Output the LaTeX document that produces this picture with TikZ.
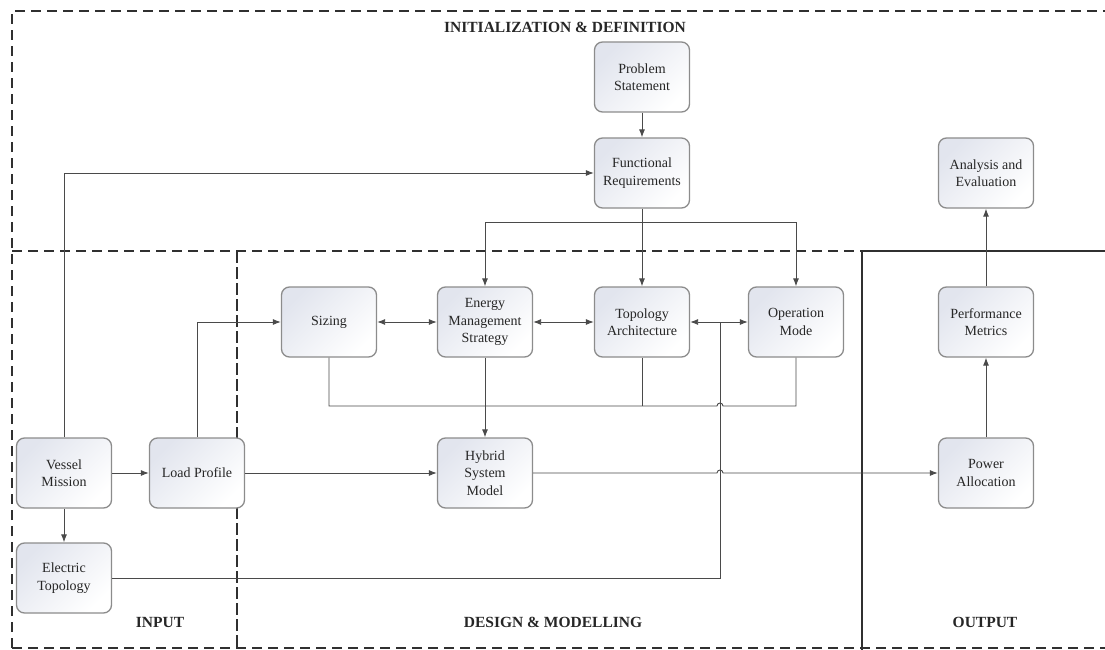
\documentclass[tikz,border=0pt]{standalone}
\usepackage{fontspec}
\setmainfont{Liberation Serif}
\usetikzlibrary{arrows.meta}
\definecolor{boxedge}{HTML}{8C8C8C}
\definecolor{boxshade}{HTML}{E2E5EE}
\definecolor{linegray}{HTML}{4A4A4A}
\definecolor{framegray}{HTML}{303030}
\begin{document}
\begin{tikzpicture}[x=1pt,y=-1pt,
  blockbox/.style={draw=boxedge, line width=1.3pt, rounded corners=8pt,
    minimum width=95pt, minimum height=70pt, inner sep=2pt, align=center,
    font=\fontsize{14}{17.5}\selectfont, text=black!85,
    top color=boxshade, bottom color=white, shading angle=45},
  link/.style={draw=linegray, line width=0.9pt},
  arr/.style={link, -{Latex[length=8pt,width=6pt]}},
  biarr/.style={link, {Latex[length=8pt,width=6pt]}-{Latex[length=8pt,width=6pt]}},
  frameline/.style={draw=framegray, line width=2.2pt, dash pattern=on 10pt off 6pt},
  solidframe/.style={draw=framegray, line width=2pt},
  region/.style={font=\bfseries\fontsize{15.5}{18}\selectfont, text=black!85}]

\useasboundingbox (0,0) rectangle (1105,650);

% section frames
\draw[frameline] (12,648) -- (12,11) -- (1105,11);
\draw[frameline] (12,251) -- (862,251);
\draw[solidframe] (862,251) -- (1105,251);
\draw[frameline, dash pattern=on 12pt off 4pt] (237,251) -- (237,650);
\draw[solidframe] (862,251) -- (862,650);
\draw[frameline] (12,648) -- (1105,648);

% section titles
\node[region] (tinit) at (565,27) {INITIALIZATION \& DEFINITION};
\node[region] (tin)   at (160,622) {INPUT};
\node[region] (tdes)  at (553,622) {DESIGN \& MODELLING};
\node[region] (tout)  at (985,622) {OUTPUT};

% blocks
\node[blockbox] (ps)  at (642,77)  {Problem\\Statement};
\node[blockbox] (fr)  at (642,173) {Functional\\Requirements};
\node[blockbox] (ae)  at (986,173) {Analysis and\\Evaluation};
\node[blockbox] (sz)  at (329,322) {Sizing};
\node[blockbox] (ems) at (485,322) {Energy\\Management\\Strategy};
\node[blockbox] (ta)  at (642,322) {Topology\\Architecture};
\node[blockbox] (om)  at (796,322) {Operation\\Mode};
\node[blockbox] (pm)  at (986,322) {Performance\\Metrics};
\node[blockbox] (vm)  at (64,473)  {Vessel\\Mission};
\node[blockbox] (lp)  at (197,473) {Load Profile};
\node[blockbox] (hsm) at (485,473) {Hybrid\\System\\Model};
\node[blockbox] (pa)  at (986,473) {Power\\Allocation};
\node[blockbox] (et)  at (64,578)  {Electric\\Topology};

% junction points
\coordinate (frs) at (642,222);
\coordinate (bus) at (560,406);
\coordinate (jx)  at (720,322);

% initialization links
\draw[arr] (ps) -- (fr);
\draw[arr] (vm.north) |- (fr.west);
\draw[link] (fr.south) -- (frs);
\draw[arr] (frs) -- (ta.north);
\draw[arr] (frs) -| (ems.north);
\draw[arr] (frs) -| (om.north);

% design links
\draw[biarr] (sz) -- (ems);
\draw[biarr] (ems) -- (ta);
\draw[biarr] (ta) -- (om);
\draw[arr] (lp.north) |- (sz.west);
\draw[arr] (ems) -- (hsm);
\draw[link] (sz.south) -- (sz.south |- bus) -- (717,406)
  arc[start angle=180, end angle=360, radius=3] -- (om.south |- bus) -- (om.south);
\draw[link] (ta.south) -- (ta.south |- bus);
\draw[link] (et.east) -- (jx |- et.east) -- (jx);

% input links
\draw[arr] (vm) -- (lp);
\draw[arr] (vm) -- (et);
\draw[arr] (lp) -- (hsm);

% output links
\draw[arr] (hsm.east) -- (717,473)
  arc[start angle=180, end angle=360, radius=3] -- (pa.west);
\draw[arr] (pa) -- (pm);
\draw[arr] (pm) -- (ae);

\end{tikzpicture}
\end{document}
